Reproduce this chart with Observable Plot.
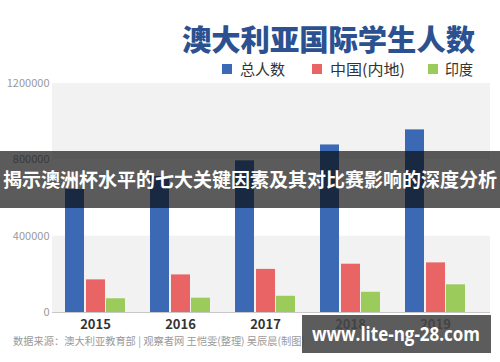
<!DOCTYPE html>
<html>
<head>
<meta charset="utf-8">
<script src="https://cdn.jsdelivr.net/npm/d3@7"></script>
<script src="https://cdn.jsdelivr.net/npm/@observablehq/plot@0.6"></script>
<style>
  html, body { margin: 0; padding: 0; background: #fff; }
  #wrap { position: relative; width: 500px; height: 362px; overflow: hidden; font-family: "Noto Sans CJK SC", "Noto Sans", sans-serif; }
  #wrap > svg { position: absolute; left: 0; top: 0; }
</style>
</head>
<body>
<div id="wrap"></div>
<script>
const years = ["2015", "2016", "2017", "2018", "2019"];
const seriesNames = ["总人数", "中国(内地)", "印度"];
const totalValues = [645000, 713000, 795000, 878000, 957000];
const chinaValues = [171000, 197000, 226000, 253000, 260000];
const indiaValues = [72000, 75000, 85000, 106000, 145000];
const seriesColors = ["#3b69b3", "#e96465", "#9bcb5b"];
const yTicks = [0, 400000, 800000, 1200000];
const bandRanges = [[0, 400000], [800000, 1200000]];
const titleText = "澳大利亚国际学生人数";
const captionText = "数据来源：澳大利亚教育部 | 观察者网 王恺雯(整理) 吴辰晨(制图)";
const bannerText = "揭示澳洲杯水平的七大关键因素及其对比赛影响的深度分析";
const watermarkText = "www.lite-ng-28.com";

const rows = years.map((y, i) => ({year: y, total: totalValues[i], china: chinaValues[i], india: indiaValues[i]}));
const bands = bandRanges.map(([a, b]) => ({y1: a, y2: b}));

const chart = Plot.plot({
  width: 500,
  height: 362,
  marginTop: 83,
  marginBottom: 50,
  marginLeft: 52,
  marginRight: 10,
  style: {fontFamily: "'Noto Sans CJK SC', 'Noto Sans', sans-serif", background: "transparent"},
  x: {domain: years, paddingInner: 0.296, paddingOuter: 0.217, align: 0.351, label: null, tickSize: 0, tickPadding: 7},
  y: {domain: [0, 1200000], ticks: yTicks, tickFormat: d => String(d), label: null, tickSize: 0, tickPadding: 3},
  marks: [
    Plot.rectY(bands, {y1: "y1", y2: "y2", fill: "#f2f2f2"}),
    Plot.barY(rows, {x: "year", y: "total", fill: seriesColors[0], insetLeft: 0, insetRight: 41}),
    Plot.barY(rows, {x: "year", y: "china", fill: seriesColors[1], insetLeft: 21, insetRight: 20}),
    Plot.barY(rows, {x: "year", y: "india", fill: seriesColors[2], insetLeft: 41, insetRight: 0}),
    Plot.ruleY([0], {stroke: "#c8c8c8", strokeWidth: 1.2})
  ]
});
d3.select(chart).selectAll("[aria-label='y-axis tick label']").attr("fill", "#9a9a9a").style("font-size", "11px");
d3.select(chart).selectAll("[aria-label='x-axis tick label']").attr("fill", "#333").style("font-size", "13px").style("font-weight", "bold");
document.getElementById("wrap").appendChild(chart);

// overlay: title, legend, caption, banner, watermark
const ov = d3.select("#wrap").append("svg").attr("width", 500).attr("height", 362)
  .style("font-family", "'Noto Sans CJK SC', 'Noto Sans', sans-serif");

ov.append("text").attr("x", 182).attr("y", 51).attr("fill", "#2b5190")
  .attr("font-size", 29).attr("font-weight", 900).attr("textLength", 293).attr("lengthAdjust", "spacingAndGlyphs")
  .text(titleText);

const legendPos = [[222, 240, 45], [312, 330, 75], [428, 445, 28]];
seriesNames.forEach((name, i) => {
  const [sx, tx, tl] = legendPos[i];
  ov.append("rect").attr("x", sx).attr("y", 64).attr("width", 10).attr("height", 10).attr("fill", seriesColors[i]);
  ov.append("text").attr("x", tx).attr("y", 74.5).attr("fill", "#333").attr("font-size", 15)
    .attr("textLength", tl).attr("lengthAdjust", "spacingAndGlyphs").text(name);
});

ov.append("text").attr("x", 13).attr("y", 345).attr("fill", "#9a9a9a").attr("font-size", 10.5)
  .attr("textLength", 292).attr("lengthAdjust", "spacingAndGlyphs").text(captionText);

ov.append("rect").attr("x", 0).attr("y", 151).attr("width", 500).attr("height", 57).attr("fill", "rgba(10,10,10,0.67)");
ov.append("text").attr("x", 3).attr("y", 187).attr("fill", "#fff").attr("font-size", 19).attr("font-weight", "bold")
  .attr("textLength", 494).attr("lengthAdjust", "spacingAndGlyphs").text(bannerText);

ov.append("rect").attr("x", 302).attr("y", 315).attr("width", 189).attr("height", 38).attr("fill", "rgba(70,70,70,0.88)");
ov.append("text").attr("x", 312).attr("y", 341).attr("fill", "#fff").attr("font-size", 19).attr("font-weight", "bold")
  .attr("font-family", "'Open Sans', 'DejaVu Sans', sans-serif")
  .attr("textLength", 168).attr("lengthAdjust", "spacingAndGlyphs").text(watermarkText);
</script>
</body>
</html>
